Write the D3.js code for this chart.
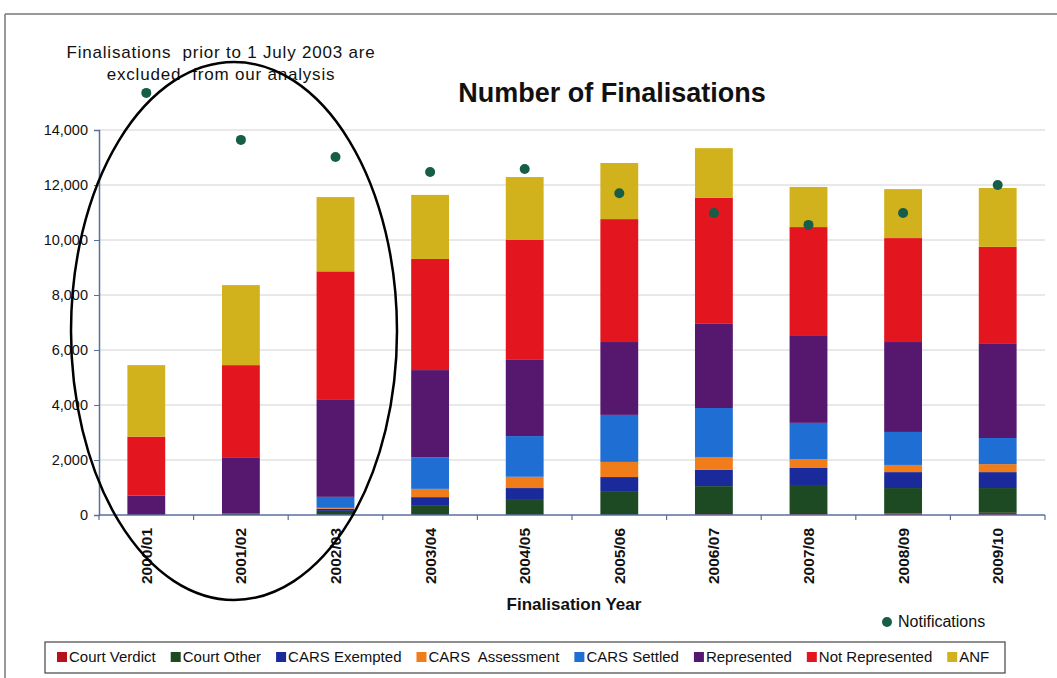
<!DOCTYPE html>
<html>
<head>
<meta charset="utf-8">
<script src="https://cdn.jsdelivr.net/npm/d3@7"></script>
<style>
  html, body { margin: 0; padding: 0; background: #fff; }
  svg { display: block; font-family: "Liberation Sans", Arial, sans-serif; }
  .pre { white-space: pre; }
</style>
</head>
<body>
<svg id="chart" width="1057" height="678"></svg>
<script>
// Finalisation years (x categories)
const years = ["2000/01","2001/02","2002/03","2003/04","2004/05","2005/06","2006/07","2007/08","2008/09","2009/10"];

// Stacked series, bottom to top
const courtVerdict    = [0,    0,    0,    0,    0,    0,    30,   30,   60,   80];
const courtOther      = [0,    50,   150,  360,  580,  840,  1020, 1060, 920,  900];
const carsExempted    = [0,    0,    80,   290,  400,  540,  590,  620,  580,  580];
const carsAssessment  = [0,    0,    30,   300,  410,  550,  470,  320,  260,  290];
const carsSettled     = [0,    0,    400,  1150, 1480, 1710, 1780, 1320, 1200, 950];
const represented     = [700,  2050, 3550, 3170, 2770, 2650, 3060, 3160, 3270, 3420];
const notRepresented  = [2150, 3350, 4650, 4040, 4360, 4470, 4580, 3960, 3780, 3530];
const anf             = [2600, 2910, 2700, 2330, 2290, 2040, 1810, 1460, 1780, 2140];

// Notifications (dots only)
const notifications   = [15350, 13640, 13020, 12470, 12580, 11700, 10980, 10550, 10980, 12000];

const seriesNames  = ["Court Verdict","Court Other","CARS Exempted","CARS  Assessment","CARS Settled","Represented","Not Represented","ANF"];
const seriesValues = [courtVerdict, courtOther, carsExempted, carsAssessment, carsSettled, represented, notRepresented, anf];
const seriesColors = ["#b5121b","#1d4a22","#1b2a9a","#f07d1a","#1f6ed4","#56186f","#e3161f","#d2b21c"];

const yTicks = [0, 2000, 4000, 6000, 8000, 10000, 12000, 14000];

const svg = d3.select("#chart");

// page frame
svg.append("line").attr("x1", 5).attr("x2", 1057).attr("y1", 14).attr("y2", 14)
  .attr("stroke", "#777").attr("stroke-width", 1.5);
svg.append("line").attr("x1", 5).attr("x2", 5).attr("y1", 14).attr("y2", 678)
  .attr("stroke", "#777").attr("stroke-width", 1.5);

const plot = { left: 99, right: 1045, top: 130, bottom: 515 };

const x = d3.scaleBand().domain(years).range([plot.left, plot.right]).paddingInner(0.6).paddingOuter(0.3);
const xBand = d3.scaleBand().domain(years).range([plot.left, plot.right]);
const y = d3.scaleLinear().domain([0, 14000]).range([plot.bottom, plot.top]);

// gridlines
svg.append("g").selectAll("line").data(yTicks.slice(1)).join("line")
  .attr("x1", plot.left).attr("x2", plot.right)
  .attr("y1", d => y(d)).attr("y2", d => y(d))
  .attr("stroke", "#d2d2d2").attr("stroke-width", 1);

// stacked data
const table = years.map((yr, i) => {
  const row = { year: yr };
  seriesNames.forEach((n, k) => row[n] = seriesValues[k][i]);
  return row;
});
const stack = d3.stack().keys(seriesNames)(table);

svg.append("g").selectAll("g").data(stack).join("g")
  .attr("fill", (d, k) => seriesColors[k])
  .selectAll("rect").data(d => d).join("rect")
  .attr("x", d => x(d.data.year))
  .attr("width", x.bandwidth())
  .attr("y", d => y(d[1]))
  .attr("height", d => Math.max(0, y(d[0]) - y(d[1])));

// y axis
const yAxis = d3.axisLeft(y).tickValues(yTicks).tickFormat(d3.format(",")).tickSize(5).tickPadding(6);
const gy = svg.append("g").attr("transform", `translate(${plot.left},0)`).call(yAxis);
gy.select(".domain").attr("stroke", "#5a6f9c").attr("stroke-width", 1.5);
gy.selectAll(".tick line").attr("stroke", "#5a6f9c");
gy.selectAll("text").attr("font-size", 14.5).attr("fill", "#111").attr("font-family", "Liberation Sans, Arial, sans-serif");

// x axis baseline with ticks at category boundaries
const gx = svg.append("g");
gx.append("line").attr("x1", plot.left).attr("x2", plot.right)
  .attr("y1", plot.bottom).attr("y2", plot.bottom)
  .attr("stroke", "#5a6f9c").attr("stroke-width", 1.5);
gx.selectAll("line.tk").data(years.concat(["_end"])).join("line").attr("class", "tk")
  .attr("x1", (d, i) => plot.left + i * xBand.step())
  .attr("x2", (d, i) => plot.left + i * xBand.step())
  .attr("y1", plot.bottom).attr("y2", plot.bottom + 5)
  .attr("stroke", "#5a6f9c").attr("stroke-width", 1.2);
gx.selectAll("text").data(years).join("text")
  .attr("transform", d => `translate(${x(d) + x.bandwidth() / 2 + 5.5},${plot.bottom + 13}) rotate(-90)`)
  .attr("text-anchor", "end")
  .attr("font-size", 15.5).attr("font-weight", "bold").attr("fill", "#111")
  .text(d => d);

// notifications dots
svg.append("g").selectAll("circle").data(notifications).join("circle")
  .attr("cx", (d, i) => x(years[i]) + x.bandwidth() / 2)
  .attr("cy", d => y(d))
  .attr("r", 5)
  .attr("fill", "#175e49");

// title
svg.append("text").attr("x", 612).attr("y", 102).attr("text-anchor", "middle")
  .attr("font-size", 27).attr("font-weight", "bold").attr("fill", "#111")
  .text("Number of Finalisations");

// x axis title
svg.append("text").attr("x", 574).attr("y", 610).attr("text-anchor", "middle")
  .attr("font-size", 17).attr("font-weight", "bold").attr("fill", "#111")
  .text("Finalisation Year");

// annotation
const note = svg.append("text").attr("class", "pre").attr("text-anchor", "middle")
  .attr("font-size", 17).attr("letter-spacing", 0.8).attr("fill", "#111");
note.append("tspan").attr("x", 221).attr("y", 58).text("Finalisations  prior to 1 July 2003 are");
note.append("tspan").attr("x", 221).attr("y", 80).text("excluded  from our analysis");

// ring around the excluded years
svg.append("ellipse")
  .attr("cx", 234).attr("cy", 331).attr("rx", 163).attr("ry", 269)
  .attr("fill", "none").attr("stroke", "#000").attr("stroke-width", 2.5);

// notifications legend
svg.append("circle").attr("cx", 887).attr("cy", 622).attr("r", 5).attr("fill", "#175e49");
svg.append("text").attr("x", 898).attr("y", 627).attr("font-size", 16).attr("fill", "#111").text("Notifications");

// series legend box
const legend = svg.append("g");
legend.append("rect").attr("x", 45).attr("y", 642).attr("width", 960).attr("height", 31)
  .attr("fill", "#fff").attr("stroke", "#444").attr("stroke-width", 1.2);
let lx = 57;
seriesNames.forEach((n, k) => {
  legend.append("rect").attr("x", lx).attr("y", 652).attr("width", 10).attr("height", 10).attr("fill", seriesColors[k]);
  const t = legend.append("text").attr("class", "pre").attr("x", lx + 12).attr("y", 662)
    .attr("font-size", 15).attr("fill", "#111").text(n);
  lx += 12 + t.node().getComputedTextLength() + 15;
});
</script>
</body>
</html>
